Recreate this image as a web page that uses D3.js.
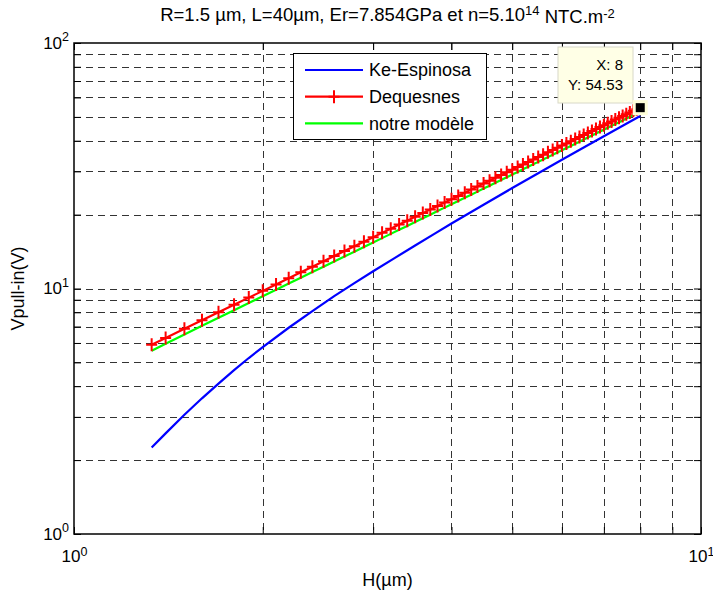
<!DOCTYPE html>
<html>
<head>
<meta charset="utf-8">
<script src="https://cdn.jsdelivr.net/npm/d3@7"></script>
<style>
  body { margin: 0; background: #fff; }
  svg { display: block; font-family: "Liberation Sans", Arial, sans-serif; }
</style>
</head>
<body>
<div id="chart"></div>
<script>
// H (µm) sampled every 0.1 for the red/green curves
var hValues = [1.33, 1.4, 1.5, 1.6, 1.7, 1.8, 1.9, 2.0, 2.1, 2.2, 2.3, 2.4, 2.5, 2.6, 2.7, 2.8, 2.9,
  3.0, 3.1, 3.2, 3.3, 3.4, 3.5, 3.6, 3.7, 3.8, 3.9, 4.0, 4.1, 4.2, 4.3, 4.4, 4.5, 4.6, 4.7, 4.8, 4.9,
  5.0, 5.1, 5.2, 5.3, 5.4, 5.5, 5.6, 5.7, 5.8, 5.9, 6.0, 6.1, 6.2, 6.3, 6.4, 6.5, 6.6, 6.7, 6.8, 6.9,
  7.0, 7.1, 7.2, 7.3, 7.4, 7.5, 7.6, 7.7, 7.8, 7.9, 8.0];

var dequesnes = [5.90, 6.29, 6.85, 7.42, 8.00, 8.59, 9.18, 9.78, 10.39, 11.01, 11.64, 12.27, 12.90,
  13.55, 14.20, 14.85, 15.51, 16.18, 16.85, 17.53, 18.21, 18.89, 19.58, 20.28, 20.98, 21.69, 22.40,
  23.11, 23.83, 24.55, 25.28, 26.01, 26.75, 27.49, 28.23, 28.97, 29.72, 30.48, 31.23, 32.00, 32.76,
  33.53, 34.30, 35.08, 35.86, 36.64, 37.42, 38.21, 39.00, 39.80, 40.60, 41.40, 42.20, 43.01, 43.82,
  44.63, 45.45, 46.27, 47.09, 47.91, 48.74, 49.57, 50.40, 51.23, 52.07, 52.91, 53.76, 54.53];

var notreModele = [5.58, 5.96, 6.50, 7.05, 7.60, 8.16, 8.73, 9.30, 9.88, 10.47, 11.07, 11.67, 12.27,
  12.89, 13.51, 14.13, 14.76, 15.40, 16.04, 16.69, 17.34, 17.99, 18.65, 19.32, 19.99, 20.67, 21.35,
  22.03, 22.72, 23.41, 24.11, 24.81, 25.52, 26.23, 26.94, 27.66, 28.38, 29.11, 29.83, 30.57, 31.30,
  32.04, 32.79, 33.54, 34.29, 35.04, 35.80, 36.56, 37.32, 38.09, 38.86, 39.64, 40.42, 41.20, 41.99,
  42.77, 43.57, 44.36, 45.16, 45.96, 46.77, 47.58, 48.39, 49.20, 50.02, 50.84, 51.67, 52.50];

// Ke-Espinosa, read at fewer points
var hKe = [1.33, 1.4, 1.5, 1.6, 1.7, 1.8, 1.9, 2.0, 2.2, 2.4, 2.6, 2.8, 3.0, 3.25, 3.5, 3.75,
  4.0, 4.5, 5.0, 5.5, 6.0, 6.5, 7.0, 7.5, 8.0];
var keEspinosa = [2.25, 2.57, 3.06, 3.57, 4.10, 4.65, 5.21, 5.77, 6.92, 8.09, 9.31, 10.52, 11.75,
  13.33, 14.96, 16.65, 18.39, 21.94, 25.65, 29.48, 33.44, 37.53, 41.72, 46.02, 50.40];

var legendNames = ["Ke-Espinosa", "Dequesnes", "notre modèle"];
var legendColors = ["#0000ff", "#ff0000", "#00ff00"];
var xMinor = [2, 3, 4, 5, 6, 7, 8, 9];
var yMinor = [2, 3, 4, 5, 6, 7, 8, 9, 10, 20, 30, 40, 50, 60, 70, 80, 90];
var tipX = 8, tipY = 54.53;

var width = 713, height = 595;
var margin = { top: 43, right: 12, bottom: 61, left: 74 };

var svg = d3.select("#chart").append("svg")
  .attr("width", width)
  .attr("height", height);

var x = d3.scaleLog().domain([1, 10]).range([margin.left, width - margin.right]);
var y = d3.scaleLog().domain([1, 100]).range([height - margin.bottom, margin.top]);

// grid
var grid = svg.append("g")
  .attr("stroke", "#333")
  .attr("stroke-width", 1)
  .attr("stroke-dasharray", "7,5");
grid.selectAll("line.v").data(xMinor).enter().append("line")
  .attr("x1", function(d) { return Math.round(x(d)) + 0.5; })
  .attr("x2", function(d) { return Math.round(x(d)) + 0.5; })
  .attr("y1", y(100)).attr("y2", y(1));
grid.selectAll("line.h").data(yMinor).enter().append("line")
  .attr("y1", function(d) { return Math.round(y(d)) + 0.5; })
  .attr("y2", function(d) { return Math.round(y(d)) + 0.5; })
  .attr("x1", x(1)).attr("x2", x(10));

// axes, ticks pointing inwards
var xTicks = [1, 2, 3, 4, 5, 6, 7, 8, 9, 10];
var yTicks = [1, 2, 3, 4, 5, 6, 7, 8, 9, 10, 20, 30, 40, 50, 60, 70, 80, 90, 100];

function styleAxis(g) {
  g.select(".domain").remove();
  g.selectAll(".tick line").attr("stroke", "#000");
}

function powerLabel(sel, dy, supDy) {
  sel.each(function(d) {
    var t = d3.select(this);
    if (t.text() === "") return;
    var e = t.text();
    t.text("10").attr("font-size", 17).attr("fill", "#000");
    if (dy) t.attr("dy", dy);
    t.append("tspan").attr("dy", supDy).attr("font-size", 12.5).text(e);
  });
}

svg.append("g")
  .attr("transform", "translate(0," + y(1) + ")")
  .call(d3.axisBottom(x).tickValues(xTicks).tickSize(-7).tickPadding(16).tickFormat(function(d) {
    return (d === 1 || d === 10) ? String(Math.log10(d)) : "";
  }))
  .call(styleAxis)
  .selectAll(".tick text")
  .call(powerLabel, null, "-0.5em");

svg.append("g")
  .attr("transform", "translate(0," + y(100) + ")")
  .call(d3.axisTop(x).tickValues(xTicks).tickSize(-7).tickFormat(""))
  .call(styleAxis);

svg.append("g")
  .attr("transform", "translate(" + x(1) + ",0)")
  .call(d3.axisLeft(y).tickValues(yTicks).tickSize(-7).tickPadding(5).tickFormat(function(d) {
    return (d === 1 || d === 10 || d === 100) ? String(Math.log10(d)) : "";
  }))
  .call(styleAxis)
  .selectAll(".tick text")
  .call(powerLabel, "0.3em", "-0.6em");

svg.append("g")
  .attr("transform", "translate(" + x(10) + ",0)")
  .call(d3.axisRight(y).tickValues(yTicks).tickSize(-7).tickFormat(""))
  .call(styleAxis);

// box
svg.append("rect")
  .attr("x", x(1)).attr("y", y(100))
  .attr("width", x(10) - x(1)).attr("height", y(1) - y(100))
  .attr("fill", "none").attr("stroke", "#000").attr("stroke-width", 1.5);

// curves
var line = d3.line()
  .x(function(d) { return x(d[0]); })
  .y(function(d) { return y(d[1]); });

var keData = d3.zip(hKe, keEspinosa);
var deqData = d3.zip(hValues, dequesnes);
var notreData = d3.zip(hValues, notreModele);

svg.append("path").datum(keData)
  .attr("d", line).attr("fill", "none")
  .attr("stroke", legendColors[0]).attr("stroke-width", 2.2);

svg.append("path").datum(notreData)
  .attr("d", line).attr("fill", "none")
  .attr("stroke", legendColors[2]).attr("stroke-width", 2.2);

svg.append("path").datum(deqData)
  .attr("d", line).attr("fill", "none")
  .attr("stroke", legendColors[1]).attr("stroke-width", 2.2);

svg.append("g")
  .attr("stroke", legendColors[1]).attr("stroke-width", 2)
  .selectAll("path").data(deqData).enter().append("path")
  .attr("d", function(d) {
    var cx = x(d[0]), cy = y(d[1]);
    return "M" + (cx - 5.5) + "," + cy + "H" + (cx + 5.5) + "M" + cx + "," + (cy - 6.5) + "V" + (cy + 6.5);
  });

// data tip
svg.append("rect")
  .attr("x", 558).attr("y", 47).attr("width", 75).attr("height", 56)
  .attr("fill", "#ffffe6").attr("stroke", "#d8d8c8").attr("stroke-width", 1);
svg.append("text")
  .attr("x", 623).attr("y", 70).attr("text-anchor", "end")
  .attr("font-size", 15).text("X: " + tipX);
svg.append("text")
  .attr("x", 623).attr("y", 90).attr("text-anchor", "end")
  .attr("font-size", 15).text("Y: " + tipY);
svg.append("rect")
  .attr("x", x(tipX) - 6).attr("y", y(tipY) - 6).attr("width", 12).attr("height", 12)
  .attr("fill", "#000").attr("stroke", "#ffffd8").attr("stroke-width", 3);

// legend
var lg = svg.append("g");
lg.append("rect")
  .attr("x", 293.5).attr("y", 53.5).attr("width", 193).attr("height", 86)
  .attr("fill", "#fff").attr("stroke", "#000").attr("stroke-width", 1);
legendNames.forEach(function(name, i) {
  var ly = 70 + i * 26.7;
  lg.append("line")
    .attr("x1", 305).attr("x2", 363).attr("y1", ly).attr("y2", ly)
    .attr("stroke", legendColors[i]).attr("stroke-width", 2.2);
  if (i === 1) {
    lg.append("path")
      .attr("d", "M328.5," + ly + "H339.5M334," + (ly - 6.5) + "V" + (ly + 6.5))
      .attr("stroke", legendColors[i]).attr("stroke-width", 2);
  }
  lg.append("text")
    .attr("x", 369).attr("y", ly).attr("dy", "0.35em")
    .attr("font-size", 18).text(name);
});

// title and axis labels
var title = svg.append("text")
  .attr("x", (x(1) + x(10)) / 2).attr("y", 21)
  .attr("text-anchor", "middle").attr("font-size", 18.5);
title.append("tspan").text("R=1.5 µm, L=40µm, Er=7.854GPa et n=5.10");
title.append("tspan").attr("dy", "-0.45em").attr("font-size", 13).text("14");
title.append("tspan").attr("dy", "0.45em").text(" NTC.m");
title.append("tspan").attr("dy", "-0.45em").attr("font-size", 13).text("-2");

svg.append("text")
  .attr("x", (x(1) + x(10)) / 2).attr("y", 586)
  .attr("text-anchor", "middle").attr("font-size", 18).text("H(µm)");

svg.append("text")
  .attr("transform", "translate(24," + ((y(1) + y(100)) / 2) + ") rotate(-90)")
  .attr("text-anchor", "middle").attr("font-size", 18).text("Vpull-in(V)");
</script>
</body>
</html>
